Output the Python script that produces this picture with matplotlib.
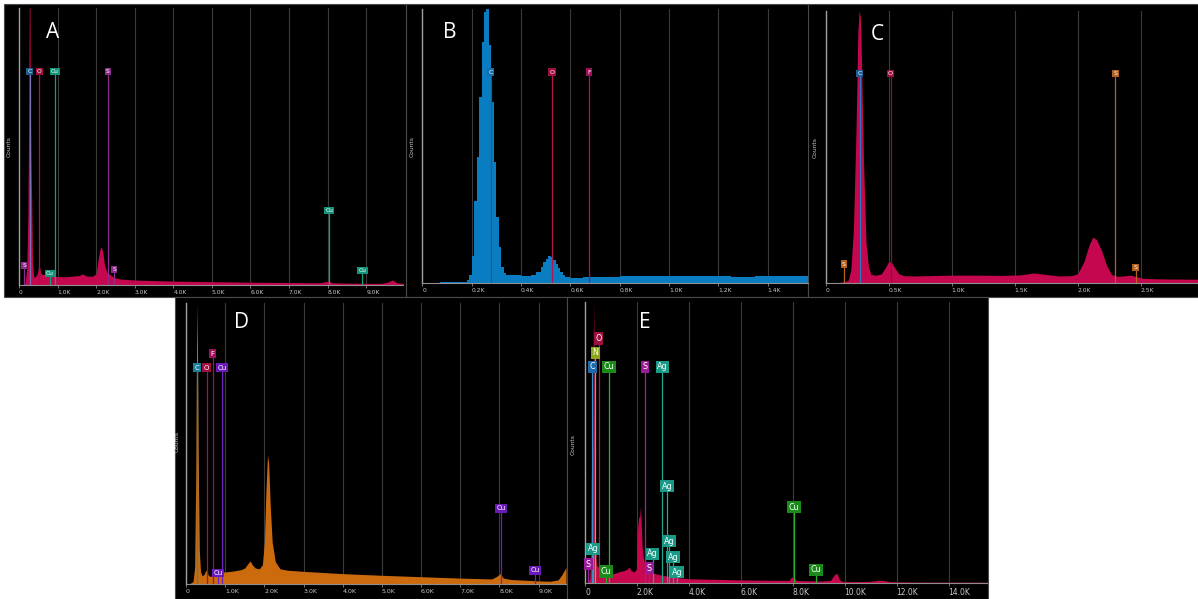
import matplotlib
matplotlib.use('Agg')
import matplotlib.pyplot as plt
from matplotlib.patches import Rectangle

# ---------------- DATA ----------------
# Panel A spectrum (energy keV, counts a.u.)
A_energy = [0.0, 0.10, 0.16, 0.20, 0.23, 0.25, 0.265, 0.285, 0.295, 0.31, 0.33, 0.35, 0.38, 0.42,
            0.47, 0.50, 0.53, 0.56, 0.60, 0.70, 0.80, 0.90, 1.0, 1.2, 1.4, 1.55, 1.65, 1.75, 1.9,
            2.0, 2.05, 2.1, 2.14, 2.18, 2.22, 2.28, 2.36, 2.45, 2.6, 3.0, 3.5, 4.0, 5.0, 6.0, 7.0,
            7.8, 7.95, 8.03, 8.12, 8.4, 9.0, 9.4, 9.55, 9.68, 9.8, 9.97]
A_counts = [0, 2, 8, 60, 250, 600, 1000, 1000, 640, 440, 300, 80, 30, 28,
            40, 60, 70, 45, 38, 38, 36, 34, 30, 30, 32, 34, 40, 32, 32,
            40, 90, 130, 138, 110, 70, 45, 38, 28, 22, 18, 16, 14, 12, 10, 9,
            8, 12, 14, 8, 7, 6, 6, 10, 18, 8, 5]

# Panel B spectrum (histogram bins: start energy keV, counts)
B_energy = [0.00, 0.07, 0.16, 0.18, 0.19, 0.20, 0.21, 0.22, 0.23, 0.24, 0.25, 0.26, 0.27, 0.28,
            0.29, 0.30, 0.31, 0.32, 0.33, 0.34, 0.40, 0.44, 0.46, 0.48, 0.49, 0.50, 0.51, 0.52,
            0.53, 0.54, 0.55, 0.56, 0.57, 0.58, 0.60, 0.65, 0.70, 0.80, 0.90, 0.98, 1.06, 1.15,
            1.25, 1.35, 1.42, 1.50, 1.563]
B_counts = [0, 2, 5, 10, 30, 100, 300, 460, 680, 880, 990, 1000, 870, 660,
            440, 240, 130, 60, 35, 28, 27, 30, 40, 60, 75, 88, 97, 95,
            85, 70, 55, 40, 30, 22, 20, 21, 22, 24, 25, 27, 26, 24,
            23, 24, 27, 26, 22]

# Panel C spectrum
C_energy = [0.0, 0.09, 0.15, 0.18, 0.20, 0.22, 0.24, 0.255, 0.265, 0.275, 0.285, 0.30, 0.32, 0.34,
            0.36, 0.40, 0.44, 0.47, 0.50, 0.52, 0.55, 0.58, 0.62, 0.70, 0.80, 1.0, 1.2, 1.4, 1.55,
            1.65, 1.72, 1.85, 1.95, 2.0, 2.05, 2.09, 2.12, 2.15, 2.19, 2.23, 2.27, 2.32, 2.38,
            2.42, 2.47, 2.52, 2.7, 2.955]
C_counts = [0, 2, 6, 12, 50, 200, 550, 920, 1000, 980, 800, 450, 150, 60,
            32, 30, 34, 55, 80, 78, 55, 35, 28, 27, 28, 30, 30, 29, 31,
            38, 34, 27, 28, 35, 80, 140, 170, 160, 120, 65, 32, 25, 28,
            30, 24, 18, 16, 15]

# Panel D spectrum
D_energy = [0.0, 0.10, 0.18, 0.22, 0.25, 0.27, 0.285, 0.30, 0.32, 0.34, 0.37, 0.41, 0.46, 0.50,
            0.53, 0.57, 0.62, 0.7, 0.8, 0.9, 1.0, 1.2, 1.4, 1.5, 1.57, 1.64, 1.70, 1.77, 1.87,
            1.95, 2.0, 2.04, 2.08, 2.11, 2.15, 2.2, 2.28, 2.4, 2.6, 3.0, 3.5, 4.0, 5.0, 6.0, 7.0,
            7.8, 7.93, 8.02, 8.1, 8.3, 8.6, 9.0, 9.3, 9.5, 9.6, 9.7]
D_counts = [0, 3, 10, 60, 400, 850, 1000, 700, 350, 120, 45, 30, 35, 48,
            50, 32, 28, 32, 38, 42, 44, 47, 52, 58, 72, 83, 68, 58, 55,
            70, 150, 330, 460, 430, 280, 150, 80, 55, 50, 46, 42, 38, 32, 27, 22,
            19, 28, 38, 22, 17, 15, 12, 11, 16, 35, 60]

# Panel E spectrum
E_energy = [0.0, 0.12, 0.18, 0.22, 0.245, 0.26, 0.28, 0.31, 0.33, 0.35, 0.37, 0.40, 0.44, 0.48,
            0.52, 0.56, 0.62, 0.8, 1.0, 1.2, 1.35, 1.5, 1.62, 1.7, 1.78, 1.88, 1.98, 2.03, 2.07,
            2.1, 2.14, 2.17, 2.2, 2.25, 2.32, 2.4, 2.5, 2.8, 3.0, 3.3, 3.6, 4.0, 5.0, 6.0, 7.0,
            7.85, 7.95, 8.05, 8.15, 8.6, 9.0, 9.45, 9.6, 9.7, 9.8, 9.95, 10.5, 11.0, 11.3, 11.5,
            11.7, 12.0, 13.0, 14.0, 15.48]
E_counts = [0, 3, 15, 80, 410, 250, 300, 750, 1000, 850, 400, 150, 70, 60,
            58, 40, 30, 30, 33, 37, 42, 45, 50, 58, 45, 40, 50, 200, 240,
            230, 275, 200, 130, 90, 60, 48, 40, 32, 28, 24, 20, 16, 14, 12, 11,
            10, 22, 20, 10, 9, 8, 10, 30, 36, 12, 6, 6, 7, 11, 10,
            6, 5, 4, 4, 4]

# Element marker lines: element, energy (keV), label height (counts)
A_mark_el = ['C', 'O', 'Cu', 'S', 'S', 'Cu', 'S', 'Cu', 'Cu']
A_mark_keV = [0.277, 0.525, 0.930, 2.307, 0.140, 0.800, 2.464, 8.040, 8.905]
A_mark_h = [770, 770, 770, 770, 70, 42, 56, 270, 52]

B_mark_el = ['C', 'O', 'F']
B_mark_keV = [0.277, 0.525, 0.677]
B_mark_h = [770, 770, 770]

C_mark_el = ['C', 'O', 'S', 'S', 'S']
C_mark_keV = [0.270, 0.515, 2.300, 0.145, 2.460]
C_mark_h = [770, 770, 770, 70, 58]

D_mark_el = ['C', 'O', 'F', 'Cu', 'Cu', 'Cu', 'Cu']
D_mark_keV = [0.277, 0.525, 0.677, 0.930, 0.811, 8.040, 8.905]
D_mark_h = [770, 770, 820, 770, 40, 270, 50]

E_mark_el = ['C', 'N', 'O', 'Cu', 'S', 'Ag', 'Ag', 'Ag', 'Ag', 'Ag', 'Ag', 'Ag', 'S', 'S',
             'Cu', 'Cu', 'Cu']
E_mark_keV = [0.277, 0.392, 0.525, 0.930, 2.307, 2.984, 3.151, 3.250, 2.600, 3.400, 3.550,
              0.311, 0.130, 2.480, 0.811, 8.040, 8.905]
E_mark_h = [770, 820, 870, 770, 770, 770, 345, 150, 105, 93, 40, 122, 68, 54, 42, 270, 48]

A_ticks = [0, 1, 2, 3, 4, 5, 6, 7, 8, 9]
A_labels = ['0', '1.0K', '2.0K', '3.0K', '4.0K', '5.0K', '6.0K', '7.0K', '8.0K', '9.0K']
B_ticks = [0, 0.2, 0.4, 0.6, 0.8, 1.0, 1.2, 1.4]
B_labels = ['0', '0.2K', '0.4K', '0.6K', '0.8K', '1.0K', '1.2K', '1.4K']
C_ticks = [0, 0.5, 1.0, 1.5, 2.0, 2.5]
C_labels = ['0', '0.5K', '1.0K', '1.5K', '2.0K', '2.5K']
D_ticks = [0, 1, 2, 3, 4, 5, 6, 7, 8, 9]
D_labels = ['0', '1.0K', '2.0K', '3.0K', '4.0K', '5.0K', '6.0K', '7.0K', '8.0K', '9.0K']
E_ticks = [0, 2, 4, 6, 8, 10, 12, 14]
E_labels = ['0', '2.0K', '4.0K', '6.0K', '8.0K', '10.0K', '12.0K', '14.0K']

# ---------------- STYLE ----------------
W, H = 1198, 599
fig = plt.figure(figsize=(W / 100, H / 100), dpi=100)
fig.patch.set_facecolor('white')
plt.rcParams['font.family'] = ['DejaVu Sans']


def fig_rect(x0, y0, x1, y1):
    return [x0 / W, 1 - y1 / H, (x1 - x0) / W, (y1 - y0) / H]


panels = [
    dict(name='A', bg=(4, 4, 407, 297), ax=(19, 8, 403, 285), xmax=9.956,
         energy=A_energy, counts=A_counts, color='#C4074E', step=False,
         mel=A_mark_el, mkev=A_mark_keV, mh=A_mark_h,
         mcol={'C': ('#1E5E8C', '#7C70B8'), 'O': ('#A0103F', '#9A1845'),
               'Cu': ('#14957A', '#14A07F'), 'S': ('#8A2A8A', '#8E2C8E')},
         ticks=A_ticks, labels=A_labels, tfs=4.3, mfs=4.3,
         letter=(53, 33), counts_lbl=(9, 147)),
    dict(name='B', bg=(406, 4, 808, 297), ax=(422.3, 9, 808, 283), xmax=1.5635,
         energy=B_energy, counts=B_counts, color='#0A7DC2', step=True,
         mel=B_mark_el, mkev=B_mark_keV, mh=B_mark_h,
         mcol={'C': ('#1470A8', '#1A5F8E'), 'O': ('#A0103F', '#B0164F'),
               'F': ('#A0105A', '#A8145C')},
         ticks=B_ticks, labels=B_labels, tfs=4.3, mfs=4.5,
         letter=(450, 33), counts_lbl=(412, 147)),
    dict(name='C', bg=(808, 4, 1198, 297), ax=(825.7, 11, 1198, 283.3), xmax=2.955,
         energy=C_energy, counts=C_counts, color='#C4074E', step=False,
         mel=C_mark_el, mkev=C_mark_keV, mh=C_mark_h,
         mcol={'C': ('#1F5F96', '#2A78C0'), 'O': ('#A0103F', '#8A1040'),
               'S': ('#B0601A', '#B8621A')},
         ticks=C_ticks, labels=C_labels, tfs=4.3, mfs=4.5,
         letter=(877, 34), counts_lbl=(815, 148)),
    dict(name='D', bg=(175, 297, 567, 599), ax=(186, 303, 566, 584.3), xmax=9.70,
         energy=D_energy, counts=D_counts, color='#CC6A0E', step=False,
         mel=D_mark_el, mkev=D_mark_keV, mh=D_mark_h,
         mcol={'C': ('#17809A', '#1F8FA8'), 'O': ('#A0103F', '#9A1845'),
               'F': ('#A0105A', '#A0105A'), 'Cu': ('#6A1AB8', '#7020C0')},
         ticks=D_ticks, labels=D_labels, tfs=4.5, mfs=5.0,
         letter=(242, 322), counts_lbl=(177, 442)),
    dict(name='E', bg=(567, 297, 988, 599), ax=(585, 302, 987, 583.3), xmax=15.48,
         energy=E_energy, counts=E_counts, color='#C8074F', step=False,
         mel=E_mark_el, mkev=E_mark_keV, mh=E_mark_h,
         mcol={'C': ('#1F6AA8', '#3A8FD0'), 'N': ('#8AA81A', '#A0B020'),
               'O': ('#A0103F', '#B01848'), 'Cu': ('#1A8A1A', '#2AB02A'),
               'S': ('#9A1A9A', '#A020A0'), 'Ag': ('#1A9A86', '#20A890')},
         ticks=E_ticks, labels=E_labels, tfs=5.5, mfs=5.8,
         letter=(645, 322), counts_lbl=(573, 445)),
]

for p in panels:
    x0, y0, x1, y1 = p['bg']
    r = fig_rect(x0, y0, x1, y1)
    fig.patches.append(Rectangle((r[0], r[1]), r[2], r[3], transform=fig.transFigure,
                                 facecolor='black', edgecolor='#4a4a4a', lw=0.8, zorder=-10))

for p in panels:
    ax0, ay0, ax1, ay1 = p['ax']
    ax = fig.add_axes(fig_rect(ax0, ay0, ax1, ay1))
    ax.set_zorder(1)
    ax.set_facecolor('black')
    ax.set_xlim(0, p['xmax'])
    ax.set_ylim(0, 1000)
    for t in p['ticks'][1:]:
        ax.axvline(t, color='#3a3a3a', lw=0.8, zorder=0.5)
    if p['step']:
        ax.fill_between(p['energy'], p['counts'], 0, step='post', color=p['color'], lw=0, zorder=2)
    else:
        ax.fill_between(p['energy'], p['counts'], 0, color=p['color'], lw=0, zorder=2)
    for el, kev, h in zip(p['mel'], p['mkev'], p['mh']):
        box_c, line_c = p['mcol'][el]
        ax.vlines(kev, 0, h, color=line_c, lw=0.9, zorder=3)
        ax.text(kev, h, el, ha='center', va='center', fontsize=p['mfs'], color='white',
                zorder=4, bbox=dict(boxstyle='square,pad=0.2', fc=box_c, ec='none'))
    ax.set_yticks([])
    ax.set_xticks(p['ticks'])
    ax.set_xticklabels(p['labels'])
    for lab in ax.get_xticklabels():
        lab.set_ha('left')
    ax.tick_params(axis='x', colors='#8a8a8a', labelcolor='#c8c8c8', labelsize=p['tfs'],
                   length=2, width=0.6, pad=1.5)
    for s in ['top', 'right']:
        ax.spines[s].set_visible(False)
    ax.spines['left'].set_color('#a0a0a0')
    ax.spines['left'].set_linewidth(1.0)
    ax.spines['bottom'].set_color('#909090')
    ax.spines['bottom'].set_linewidth(0.8)

for p in panels:
    lx, ly = p['letter']
    fig.text(lx / W, 1 - ly / H, p['name'], ha='center', va='center', color='white',
             fontsize=15, family='Open Sans', zorder=5)
    cx, cy = p['counts_lbl']
    fig.text(cx / W, 1 - cy / H, 'Counts', ha='center', va='center', rotation=90,
             color='#c8c8c8', fontsize=4.3, zorder=5)

fig.savefig('out.png', dpi=100, facecolor='white')
